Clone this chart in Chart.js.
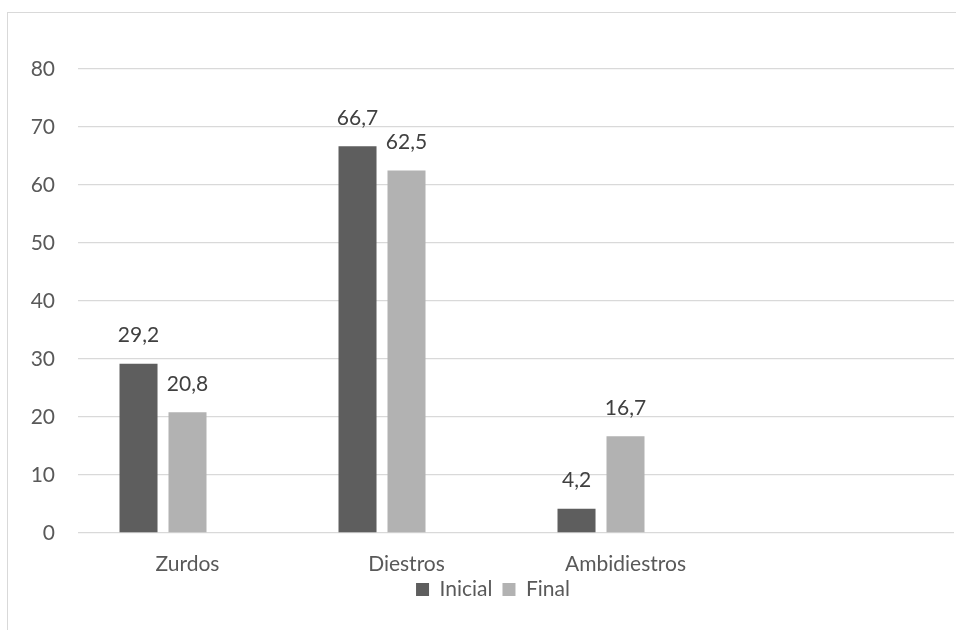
<!DOCTYPE html>
<html>
<head>
<meta charset="utf-8">
<script src="https://cdn.jsdelivr.net/npm/chart.js@4.4.1/dist/chart.umd.min.js"></script>
<style>
  html, body { margin: 0; padding: 0; background: #fff; overflow: hidden; width: 956px; height: 630px; }
  #frame { position: absolute; left: 7px; top: 12px; width: 1000px; height: 700px;
           border-left: 1.5px solid #d9d9d9; border-top: 1.5px solid #d9d9d9; }
  #chart { position: absolute; left: 8px; top: 13px; }
</style>
</head>
<body>
<div id="frame"></div>
<canvas id="chart" width="970" height="608"></canvas>
<script>
// Lateralidad: porcentaje inicial y final por grupo
const categories = ['Zurdos', 'Diestros', 'Ambidiestros', ''];
const inicial = [29.2, 66.7, 4.2, null];
const final = [20.8, 62.5, 16.7, null];
const serie3 = [null, null, null, null];
const yMax = 80;
const yStep = 10;

const FONT = 'Lato';
const SIZE = 21;
const TEXT = '#595959';

// Writes each bar's value above it, with a decimal comma
const valueLabels = {
  id: 'valueLabels',
  afterDatasetsDraw(chart) {
    const ctx = chart.ctx;
    ctx.save();
    ctx.font = SIZE + 'px ' + FONT;
    ctx.fillStyle = '#404040';
    ctx.textAlign = 'center';
    ctx.textBaseline = 'middle';
    chart.data.datasets.forEach((ds, i) => {
      const meta = chart.getDatasetMeta(i);
      meta.data.forEach((bar, j) => {
        const v = ds.data[j];
        if (v == null) return;
        ctx.fillText(v.toFixed(1).replace('.', ','), bar.x, bar.y - 28);
      });
    });
    ctx.restore();
  }
};

// Centre the legend on the full canvas width and tuck it under the axis labels
const legendShift = {
  id: 'legendShift',
  afterLayout(chart) {
    const lg = chart.legend;
    if (!lg) return;
    lg.left += 12; lg.right += 12;
    lg.top -= 11; lg.bottom -= 11;
  }
};

function draw() {
  new Chart(document.getElementById('chart'), {
    type: 'bar',
    data: {
      labels: categories,
      datasets: [
        { label: 'Inicial', data: inicial, backgroundColor: '#5e5e5e' },
        { label: 'Final', data: final, backgroundColor: '#b2b2b2' },
        { label: 'Serie 3', data: serie3, backgroundColor: '#8a8a8a' }
      ]
    },
    options: {
      responsive: false,
      animation: false,
      categoryPercentage: 0.671,
      barPercentage: 0.776,
      layout: { padding: { top: 56, right: 24, left: 0, bottom: 0 } },
      plugins: {
        legend: {
          position: 'bottom',
          labels: {
            boxWidth: 13, boxHeight: 13, padding: 10, color: TEXT,
            font: { family: FONT, size: SIZE },
            filter: (item) => item.datasetIndex < 2
          }
        },
        tooltip: { enabled: false }
      },
      scales: {
        x: {
          grid: { display: false, drawTicks: false },
          border: { display: false },
          ticks: { color: TEXT, font: { family: FONT, size: SIZE }, padding: 19, autoSkip: false, maxRotation: 0 },
          afterFit(scale) { scale.height = 47; }
        },
        y: {
          min: 0, max: yMax,
          grid: { color: '#d9d9d9', lineWidth: 1.3, drawTicks: false },
          border: { display: false },
          ticks: { stepSize: yStep, color: TEXT, font: { family: FONT, size: SIZE }, padding: 23 },
          afterFit(scale) { scale.width = 70; }
        }
      }
    },
    plugins: [valueLabels, legendShift]
  });
}

document.fonts.load(SIZE + 'px ' + FONT).then(draw, draw);
</script>
</body>
</html>
